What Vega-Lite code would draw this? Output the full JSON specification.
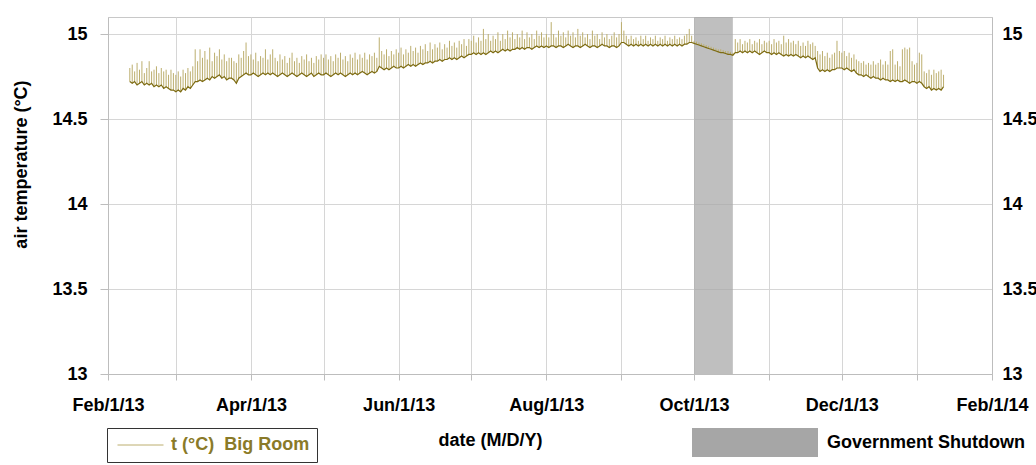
{
  "$schema": "https://vega.github.io/schema/vega-lite/v6.json",
  "width": 884,
  "height": 357,
  "autosize": "none",
  "padding": {"left": 108, "top": 17, "right": 44, "bottom": 91},
  "background": "white",
  "config": {
    "font": "Liberation Sans",
    "view": {"stroke": "#c8c8c8"},
    "axis": {
      "labelFont": "Liberation Sans", "labelFontWeight": "bold", "labelFontSize": 18, "labelColor": "#000",
      "titleFont": "Liberation Sans", "titleFontWeight": "bold", "titleFontSize": 18, "titleColor": "#000",
      "gridColor": "#d6d6d6", "domainColor": "#bdbdbd", "tickColor": "#bdbdbd"
    },
    "legend": {"labelFont": "Liberation Sans", "labelFontWeight": "bold", "labelFontSize": 18, "orient": "none", "labelLimit": 400}
  },
  "datasets": {
    "shutdown": [{"start": "2013-10-01", "end": "2013-10-17"}],
    "temp": [
      {"d":"2013-02-10","lo":14.72,"hi":14.80},{"d":"2013-02-11","lo":14.71,"hi":14.82},{"d":"2013-02-12","lo":14.72,"hi":14.78},{"d":"2013-02-13","lo":14.70,"hi":14.83},{"d":"2013-02-14","lo":14.71,"hi":14.79},{"d":"2013-02-15","lo":14.72,"hi":14.84},{"d":"2013-02-16","lo":14.70,"hi":14.77},{"d":"2013-02-17","lo":14.71,"hi":14.80},{"d":"2013-02-18","lo":14.70,"hi":14.84},{"d":"2013-02-19","lo":14.71,"hi":14.78},{"d":"2013-02-20","lo":14.69,"hi":14.79},{"d":"2013-02-21","lo":14.70,"hi":14.81},{"d":"2013-02-22","lo":14.69,"hi":14.77},{"d":"2013-02-23","lo":14.70,"hi":14.80},{"d":"2013-02-24","lo":14.68,"hi":14.78},{"d":"2013-02-25","lo":14.69,"hi":14.79},{"d":"2013-02-26","lo":14.68,"hi":14.76},{"d":"2013-02-27","lo":14.67,"hi":14.79},{"d":"2013-02-28","lo":14.67,"hi":14.77},
      {"d":"2013-03-01","lo":14.66,"hi":14.76},{"d":"2013-03-02","lo":14.67,"hi":14.78},{"d":"2013-03-03","lo":14.66,"hi":14.75},{"d":"2013-03-04","lo":14.68,"hi":14.79},{"d":"2013-03-05","lo":14.67,"hi":14.77},{"d":"2013-03-06","lo":14.69,"hi":14.80},{"d":"2013-03-07","lo":14.68,"hi":14.78},{"d":"2013-03-08","lo":14.70,"hi":14.81},{"d":"2013-03-09","lo":14.72,"hi":14.91},{"d":"2013-03-10","lo":14.72,"hi":14.84},{"d":"2013-03-11","lo":14.73,"hi":14.91},{"d":"2013-03-12","lo":14.72,"hi":14.86},{"d":"2013-03-13","lo":14.73,"hi":14.90},{"d":"2013-03-14","lo":14.74,"hi":14.85},{"d":"2013-03-15","lo":14.73,"hi":14.92},{"d":"2013-03-16","lo":14.75,"hi":14.84},{"d":"2013-03-17","lo":14.74,"hi":14.89},{"d":"2013-03-18","lo":14.75,"hi":14.87},{"d":"2013-03-19","lo":14.76,"hi":14.91},{"d":"2013-03-20","lo":14.74,"hi":14.85},{"d":"2013-03-21","lo":14.75,"hi":14.88},{"d":"2013-03-22","lo":14.73,"hi":14.84},{"d":"2013-03-23","lo":14.74,"hi":14.86},{"d":"2013-03-24","lo":14.74,"hi":14.86},{"d":"2013-03-25","lo":14.73,"hi":14.84},{"d":"2013-03-26","lo":14.71,"hi":14.83},{"d":"2013-03-27","lo":14.74,"hi":14.88},{"d":"2013-03-28","lo":14.75,"hi":14.86},{"d":"2013-03-29","lo":14.76,"hi":14.90},{"d":"2013-03-30","lo":14.77,"hi":14.95},{"d":"2013-03-31","lo":14.76,"hi":14.87},
      {"d":"2013-04-01","lo":14.76,"hi":14.88},{"d":"2013-04-02","lo":14.77,"hi":14.85},{"d":"2013-04-03","lo":14.76,"hi":14.89},{"d":"2013-04-04","lo":14.75,"hi":14.84},{"d":"2013-04-05","lo":14.76,"hi":14.87},{"d":"2013-04-06","lo":14.77,"hi":14.86},{"d":"2013-04-07","lo":14.76,"hi":14.91},{"d":"2013-04-08","lo":14.77,"hi":14.85},{"d":"2013-04-09","lo":14.76,"hi":14.88},{"d":"2013-04-10","lo":14.77,"hi":14.91},{"d":"2013-04-11","lo":14.76,"hi":14.86},{"d":"2013-04-12","lo":14.75,"hi":14.84},{"d":"2013-04-13","lo":14.76,"hi":14.88},{"d":"2013-04-14","lo":14.77,"hi":14.85},{"d":"2013-04-15","lo":14.76,"hi":14.87},{"d":"2013-04-16","lo":14.75,"hi":14.83},{"d":"2013-04-17","lo":14.76,"hi":14.86},{"d":"2013-04-18","lo":14.77,"hi":14.89},{"d":"2013-04-19","lo":14.76,"hi":14.84},{"d":"2013-04-20","lo":14.75,"hi":14.86},{"d":"2013-04-21","lo":14.76,"hi":14.83},{"d":"2013-04-22","lo":14.77,"hi":14.87},{"d":"2013-04-23","lo":14.76,"hi":14.85},{"d":"2013-04-24","lo":14.75,"hi":14.88},{"d":"2013-04-25","lo":14.76,"hi":14.84},{"d":"2013-04-26","lo":14.77,"hi":14.86},{"d":"2013-04-27","lo":14.75,"hi":14.83},{"d":"2013-04-28","lo":14.76,"hi":14.87},{"d":"2013-04-29","lo":14.77,"hi":14.85},{"d":"2013-04-30","lo":14.76,"hi":14.88},
      {"d":"2013-05-01","lo":14.76,"hi":14.86},{"d":"2013-05-02","lo":14.77,"hi":14.88},{"d":"2013-05-03","lo":14.76,"hi":14.85},{"d":"2013-05-04","lo":14.75,"hi":14.87},{"d":"2013-05-05","lo":14.76,"hi":14.84},{"d":"2013-05-06","lo":14.77,"hi":14.88},{"d":"2013-05-07","lo":14.76,"hi":14.86},{"d":"2013-05-08","lo":14.77,"hi":14.89},{"d":"2013-05-09","lo":14.76,"hi":14.85},{"d":"2013-05-10","lo":14.75,"hi":14.87},{"d":"2013-05-11","lo":14.76,"hi":14.84},{"d":"2013-05-12","lo":14.77,"hi":14.88},{"d":"2013-05-13","lo":14.76,"hi":14.86},{"d":"2013-05-14","lo":14.77,"hi":14.89},{"d":"2013-05-15","lo":14.76,"hi":14.85},{"d":"2013-05-16","lo":14.77,"hi":14.88},{"d":"2013-05-17","lo":14.78,"hi":14.86},{"d":"2013-05-18","lo":14.77,"hi":14.89},{"d":"2013-05-19","lo":14.76,"hi":14.85},{"d":"2013-05-20","lo":14.77,"hi":14.88},{"d":"2013-05-21","lo":14.78,"hi":14.87},{"d":"2013-05-22","lo":14.77,"hi":14.89},{"d":"2013-05-23","lo":14.78,"hi":14.86},{"d":"2013-05-24","lo":14.81,"hi":14.98},{"d":"2013-05-25","lo":14.80,"hi":14.90},{"d":"2013-05-26","lo":14.79,"hi":14.88},{"d":"2013-05-27","lo":14.80,"hi":14.91},{"d":"2013-05-28","lo":14.79,"hi":14.87},{"d":"2013-05-29","lo":14.80,"hi":14.90},{"d":"2013-05-30","lo":14.81,"hi":14.88},{"d":"2013-05-31","lo":14.80,"hi":14.91},
      {"d":"2013-06-01","lo":14.80,"hi":14.89},{"d":"2013-06-02","lo":14.81,"hi":14.92},{"d":"2013-06-03","lo":14.80,"hi":14.88},{"d":"2013-06-04","lo":14.81,"hi":14.91},{"d":"2013-06-05","lo":14.82,"hi":14.89},{"d":"2013-06-06","lo":14.81,"hi":14.93},{"d":"2013-06-07","lo":14.82,"hi":14.90},{"d":"2013-06-08","lo":14.81,"hi":14.92},{"d":"2013-06-09","lo":14.82,"hi":14.89},{"d":"2013-06-10","lo":14.83,"hi":14.93},{"d":"2013-06-11","lo":14.82,"hi":14.91},{"d":"2013-06-12","lo":14.83,"hi":14.94},{"d":"2013-06-13","lo":14.83,"hi":14.90},{"d":"2013-06-14","lo":14.84,"hi":14.95},{"d":"2013-06-15","lo":14.83,"hi":14.91},{"d":"2013-06-16","lo":14.84,"hi":14.94},{"d":"2013-06-17","lo":14.84,"hi":14.92},{"d":"2013-06-18","lo":14.85,"hi":14.95},{"d":"2013-06-19","lo":14.84,"hi":14.91},{"d":"2013-06-20","lo":14.85,"hi":14.94},{"d":"2013-06-21","lo":14.85,"hi":14.92},{"d":"2013-06-22","lo":14.86,"hi":14.96},{"d":"2013-06-23","lo":14.85,"hi":14.93},{"d":"2013-06-24","lo":14.86,"hi":14.95},{"d":"2013-06-25","lo":14.85,"hi":14.92},{"d":"2013-06-26","lo":14.86,"hi":14.96},{"d":"2013-06-27","lo":14.87,"hi":14.94},{"d":"2013-06-28","lo":14.86,"hi":14.97},{"d":"2013-06-29","lo":14.87,"hi":14.93},{"d":"2013-06-30","lo":14.88,"hi":14.97},
      {"d":"2013-07-01","lo":14.88,"hi":14.96},{"d":"2013-07-02","lo":14.89,"hi":14.99},{"d":"2013-07-03","lo":14.88,"hi":14.95},{"d":"2013-07-04","lo":14.89,"hi":14.98},{"d":"2013-07-05","lo":14.88,"hi":14.96},{"d":"2013-07-06","lo":14.89,"hi":15.03},{"d":"2013-07-07","lo":14.88,"hi":14.97},{"d":"2013-07-08","lo":14.89,"hi":15.00},{"d":"2013-07-09","lo":14.90,"hi":14.96},{"d":"2013-07-10","lo":14.89,"hi":14.99},{"d":"2013-07-11","lo":14.90,"hi":14.97},{"d":"2013-07-12","lo":14.89,"hi":15.01},{"d":"2013-07-13","lo":14.90,"hi":14.96},{"d":"2013-07-14","lo":14.91,"hi":15.00},{"d":"2013-07-15","lo":14.90,"hi":14.97},{"d":"2013-07-16","lo":14.91,"hi":15.02},{"d":"2013-07-17","lo":14.90,"hi":14.98},{"d":"2013-07-18","lo":14.91,"hi":15.01},{"d":"2013-07-19","lo":14.91,"hi":14.97},{"d":"2013-07-20","lo":14.92,"hi":15.00},{"d":"2013-07-21","lo":14.91,"hi":14.98},{"d":"2013-07-22","lo":14.92,"hi":15.02},{"d":"2013-07-23","lo":14.91,"hi":14.97},{"d":"2013-07-24","lo":14.92,"hi":15.01},{"d":"2013-07-25","lo":14.92,"hi":14.98},{"d":"2013-07-26","lo":14.91,"hi":15.00},{"d":"2013-07-27","lo":14.92,"hi":14.97},{"d":"2013-07-28","lo":14.93,"hi":15.02},{"d":"2013-07-29","lo":14.92,"hi":14.99},{"d":"2013-07-30","lo":14.93,"hi":15.01},{"d":"2013-07-31","lo":14.92,"hi":14.98},
      {"d":"2013-08-01","lo":14.93,"hi":15.00},{"d":"2013-08-02","lo":14.92,"hi":14.98},{"d":"2013-08-03","lo":14.93,"hi":15.07},{"d":"2013-08-04","lo":14.93,"hi":15.00},{"d":"2013-08-05","lo":14.92,"hi":14.98},{"d":"2013-08-06","lo":14.93,"hi":15.02},{"d":"2013-08-07","lo":14.93,"hi":14.99},{"d":"2013-08-08","lo":14.92,"hi":15.01},{"d":"2013-08-09","lo":14.93,"hi":14.98},{"d":"2013-08-10","lo":14.94,"hi":15.02},{"d":"2013-08-11","lo":14.93,"hi":14.99},{"d":"2013-08-12","lo":14.92,"hi":15.01},{"d":"2013-08-13","lo":14.93,"hi":14.98},{"d":"2013-08-14","lo":14.93,"hi":15.03},{"d":"2013-08-15","lo":14.92,"hi":14.99},{"d":"2013-08-16","lo":14.93,"hi":15.01},{"d":"2013-08-17","lo":14.94,"hi":14.98},{"d":"2013-08-18","lo":14.93,"hi":15.00},{"d":"2013-08-19","lo":14.92,"hi":14.97},{"d":"2013-08-20","lo":14.93,"hi":15.02},{"d":"2013-08-21","lo":14.93,"hi":14.99},{"d":"2013-08-22","lo":14.92,"hi":15.00},{"d":"2013-08-23","lo":14.93,"hi":14.97},{"d":"2013-08-24","lo":14.94,"hi":15.01},{"d":"2013-08-25","lo":14.93,"hi":14.98},{"d":"2013-08-26","lo":14.93,"hi":15.00},{"d":"2013-08-27","lo":14.92,"hi":14.97},{"d":"2013-08-28","lo":14.93,"hi":14.99},{"d":"2013-08-29","lo":14.93,"hi":15.01},{"d":"2013-08-30","lo":14.92,"hi":14.98},{"d":"2013-08-31","lo":14.93,"hi":15.00},
      {"d":"2013-09-01","lo":14.95,"hi":15.07},{"d":"2013-09-02","lo":14.95,"hi":15.02},{"d":"2013-09-03","lo":14.94,"hi":14.99},{"d":"2013-09-04","lo":14.93,"hi":14.97},{"d":"2013-09-05","lo":14.94,"hi":14.99},{"d":"2013-09-06","lo":14.93,"hi":14.97},{"d":"2013-09-07","lo":14.94,"hi":14.98},{"d":"2013-09-08","lo":14.93,"hi":14.96},{"d":"2013-09-09","lo":14.94,"hi":14.99},{"d":"2013-09-10","lo":14.93,"hi":14.97},{"d":"2013-09-11","lo":14.94,"hi":14.99},{"d":"2013-09-12","lo":14.93,"hi":14.96},{"d":"2013-09-13","lo":14.94,"hi":14.98},{"d":"2013-09-14","lo":14.93,"hi":14.97},{"d":"2013-09-15","lo":14.94,"hi":14.99},{"d":"2013-09-16","lo":14.93,"hi":14.96},{"d":"2013-09-17","lo":14.94,"hi":14.98},{"d":"2013-09-18","lo":14.93,"hi":14.97},{"d":"2013-09-19","lo":14.94,"hi":14.99},{"d":"2013-09-20","lo":14.93,"hi":14.96},{"d":"2013-09-21","lo":14.94,"hi":14.98},{"d":"2013-09-22","lo":14.93,"hi":14.97},{"d":"2013-09-23","lo":14.94,"hi":14.99},{"d":"2013-09-24","lo":14.93,"hi":14.97},{"d":"2013-09-25","lo":14.94,"hi":14.98},{"d":"2013-09-26","lo":14.93,"hi":14.97},{"d":"2013-09-27","lo":14.94,"hi":14.99},{"d":"2013-09-28","lo":14.94,"hi":15.00},{"d":"2013-09-29","lo":14.95,"hi":15.03},{"d":"2013-09-30","lo":14.95,"hi":14.99},
      {"d":"2013-10-01","lo":14.945,"hi":14.96},{"d":"2013-10-02","lo":14.94,"hi":14.955},{"d":"2013-10-03","lo":14.935,"hi":14.95},{"d":"2013-10-04","lo":14.93,"hi":14.945},{"d":"2013-10-05","lo":14.925,"hi":14.94},{"d":"2013-10-06","lo":14.92,"hi":14.935},{"d":"2013-10-07","lo":14.915,"hi":14.93},{"d":"2013-10-08","lo":14.91,"hi":14.925},{"d":"2013-10-09","lo":14.905,"hi":14.92},{"d":"2013-10-10","lo":14.90,"hi":14.915},{"d":"2013-10-11","lo":14.895,"hi":14.91},{"d":"2013-10-12","lo":14.89,"hi":14.91},{"d":"2013-10-13","lo":14.89,"hi":14.905},{"d":"2013-10-14","lo":14.885,"hi":14.90},{"d":"2013-10-15","lo":14.88,"hi":14.90},{"d":"2013-10-16","lo":14.88,"hi":14.895},{"d":"2013-10-17","lo":14.875,"hi":14.89},{"d":"2013-10-18","lo":14.89,"hi":14.97},{"d":"2013-10-19","lo":14.89,"hi":14.95},{"d":"2013-10-20","lo":14.90,"hi":14.97},{"d":"2013-10-21","lo":14.89,"hi":14.94},{"d":"2013-10-22","lo":14.90,"hi":14.96},{"d":"2013-10-23","lo":14.89,"hi":14.95},{"d":"2013-10-24","lo":14.90,"hi":14.97},{"d":"2013-10-25","lo":14.89,"hi":14.94},{"d":"2013-10-26","lo":14.90,"hi":14.96},{"d":"2013-10-27","lo":14.89,"hi":14.95},{"d":"2013-10-28","lo":14.88,"hi":14.97},{"d":"2013-10-29","lo":14.89,"hi":14.94},{"d":"2013-10-30","lo":14.90,"hi":14.96},{"d":"2013-10-31","lo":14.89,"hi":14.95},
      {"d":"2013-11-01","lo":14.89,"hi":14.96},{"d":"2013-11-02","lo":14.88,"hi":14.94},{"d":"2013-11-03","lo":14.89,"hi":14.97},{"d":"2013-11-04","lo":14.88,"hi":14.95},{"d":"2013-11-05","lo":14.89,"hi":14.96},{"d":"2013-11-06","lo":14.88,"hi":14.94},{"d":"2013-11-07","lo":14.87,"hi":14.99},{"d":"2013-11-08","lo":14.88,"hi":14.95},{"d":"2013-11-09","lo":14.87,"hi":14.97},{"d":"2013-11-10","lo":14.88,"hi":14.95},{"d":"2013-11-11","lo":14.87,"hi":14.96},{"d":"2013-11-12","lo":14.88,"hi":14.94},{"d":"2013-11-13","lo":14.87,"hi":14.96},{"d":"2013-11-14","lo":14.86,"hi":14.93},{"d":"2013-11-15","lo":14.87,"hi":14.95},{"d":"2013-11-16","lo":14.86,"hi":14.93},{"d":"2013-11-17","lo":14.87,"hi":14.96},{"d":"2013-11-18","lo":14.86,"hi":14.94},{"d":"2013-11-19","lo":14.85,"hi":14.95},{"d":"2013-11-20","lo":14.86,"hi":14.93},{"d":"2013-11-21","lo":14.80,"hi":14.90},{"d":"2013-11-22","lo":14.78,"hi":14.88},{"d":"2013-11-23","lo":14.79,"hi":14.90},{"d":"2013-11-24","lo":14.78,"hi":14.87},{"d":"2013-11-25","lo":14.79,"hi":14.89},{"d":"2013-11-26","lo":14.78,"hi":14.86},{"d":"2013-11-27","lo":14.79,"hi":14.88},{"d":"2013-11-28","lo":14.79,"hi":14.89},{"d":"2013-11-29","lo":14.80,"hi":14.96},{"d":"2013-11-30","lo":14.80,"hi":14.90},
      {"d":"2013-12-01","lo":14.80,"hi":14.89},{"d":"2013-12-02","lo":14.79,"hi":14.90},{"d":"2013-12-03","lo":14.80,"hi":14.87},{"d":"2013-12-04","lo":14.79,"hi":14.89},{"d":"2013-12-05","lo":14.78,"hi":14.86},{"d":"2013-12-06","lo":14.79,"hi":14.88},{"d":"2013-12-07","lo":14.77,"hi":14.85},{"d":"2013-12-08","lo":14.76,"hi":14.84},{"d":"2013-12-09","lo":14.76,"hi":14.83},{"d":"2013-12-10","lo":14.75,"hi":14.84},{"d":"2013-12-11","lo":14.76,"hi":14.82},{"d":"2013-12-12","lo":14.75,"hi":14.83},{"d":"2013-12-13","lo":14.74,"hi":14.82},{"d":"2013-12-14","lo":14.75,"hi":14.84},{"d":"2013-12-15","lo":14.74,"hi":14.82},{"d":"2013-12-16","lo":14.74,"hi":14.83},{"d":"2013-12-17","lo":14.73,"hi":14.85},{"d":"2013-12-18","lo":14.74,"hi":14.82},{"d":"2013-12-19","lo":14.73,"hi":14.84},{"d":"2013-12-20","lo":14.73,"hi":14.82},{"d":"2013-12-21","lo":14.72,"hi":14.90},{"d":"2013-12-22","lo":14.73,"hi":14.91},{"d":"2013-12-23","lo":14.72,"hi":14.82},{"d":"2013-12-24","lo":14.73,"hi":14.84},{"d":"2013-12-25","lo":14.72,"hi":14.81},{"d":"2013-12-26","lo":14.72,"hi":14.91},{"d":"2013-12-27","lo":14.73,"hi":14.92},{"d":"2013-12-28","lo":14.72,"hi":14.91},{"d":"2013-12-29","lo":14.71,"hi":14.92},{"d":"2013-12-30","lo":14.72,"hi":14.84},{"d":"2013-12-31","lo":14.72,"hi":14.82},
      {"d":"2014-01-01","lo":14.71,"hi":14.83},{"d":"2014-01-02","lo":14.72,"hi":14.89},{"d":"2014-01-03","lo":14.71,"hi":14.88},{"d":"2014-01-04","lo":14.69,"hi":14.78},{"d":"2014-01-05","lo":14.68,"hi":14.77},{"d":"2014-01-06","lo":14.69,"hi":14.79},{"d":"2014-01-07","lo":14.67,"hi":14.76},{"d":"2014-01-08","lo":14.68,"hi":14.79},{"d":"2014-01-09","lo":14.67,"hi":14.77},{"d":"2014-01-10","lo":14.68,"hi":14.78},{"d":"2014-01-11","lo":14.67,"hi":14.79},{"d":"2014-01-12","lo":14.69,"hi":14.76}
    ]
  },
  "resolve": {"axis": {"y": "independent"}},
  "layer": [
    {
      "data": {"name": "shutdown"},
      "mark": {"type": "rect", "fillOpacity": 0.72},
      "encoding": {
        "x": {
          "field": "start", "type": "temporal",
          "scale": {"type": "utc", "domain": [{"year": 2013, "month": 2, "date": 1, "utc": true}, {"year": 2014, "month": 2, "date": 1, "utc": true}]},
          "axis": {
            "title": "date (M/D/Y)",
            "tickCount": {"interval": "month", "step": 1},
            "labelExpr": "utcmonth(datum.value) % 2 == 1 ? utcFormat(datum.value, '%b/%-d/%y') : ''",
            "labelOverlap": false, "labelFlush": false, "labelDx": 3,
            "tickSize": 6, "labelPadding": 16,
            "titleX": 382, "titleY": 71, "titleBaseline": "alphabetic"
          }
        },
        "x2": {"field": "end"},
        "fill": {
          "datum": "Government Shutdown", "type": "nominal",
          "scale": {"range": ["#a6a6a6"]},
          "legend": {
            "title": null, "legendX": 584, "legendY": 411, "padding": 0,
            "symbolType": "M-1,-0.23H1V0.23H-1Z", "symbolSize": 15876, "clipHeight": 29,
            "symbolOpacity": 1, "symbolStrokeWidth": 0, "labelOffset": 9, "labelColor": "#000", "labelLimit": 400
          }
        }
      }
    },
    {
      "data": {"name": "temp"},
      "mark": {"type": "rule", "strokeWidth": 1},
      "encoding": {
        "x": {"field": "d", "type": "temporal"},
        "y": {
          "field": "lo", "type": "quantitative",
          "scale": {"domain": [13, 15.1], "nice": false, "zero": false},
          "axis": {
            "title": "air temperature (°C)", "values": [13, 13.5, 14, 14.5, 15], "format": "~g",
            "tickSize": 8, "labelPadding": 13,
            "titleX": -82, "titleY": 147, "titleBaseline": "alphabetic"
          }
        },
        "y2": {"field": "hi"},
        "stroke": {
          "datum": "t (°C)\u00a0 Big Room", "type": "nominal",
          "scale": {"range": ["#bcae6e"]},
          "legend": {
            "title": null, "legendX": -1, "legendY": 411, "padding": 7,
            "symbolType": "stroke", "symbolSize": 2116, "symbolStrokeWidth": 1, "clipHeight": 20,
            "symbolOffset": 3, "labelOffset": 7, "labelColor": "#8a7a28", "labelLimit": 400,
            "strokeColor": "#333333", "fillColor": "white"
          }
        }
      }
    },
    {
      "data": {"name": "temp"},
      "mark": {"type": "line", "strokeWidth": 1.2, "color": "#7d6b12"},
      "encoding": {
        "x": {"field": "d", "type": "temporal"},
        "y": {
          "field": "lo", "type": "quantitative",
          "scale": {"domain": [13, 15.1], "nice": false, "zero": false},
          "axis": {
            "orient": "right", "title": null, "values": [13, 13.5, 14, 14.5, 15], "format": "~g",
            "ticks": false, "tickSize": 0, "grid": false, "labelPadding": 10, "labelAlign": "left"
          }
        }
      }
    }
  ]
}
